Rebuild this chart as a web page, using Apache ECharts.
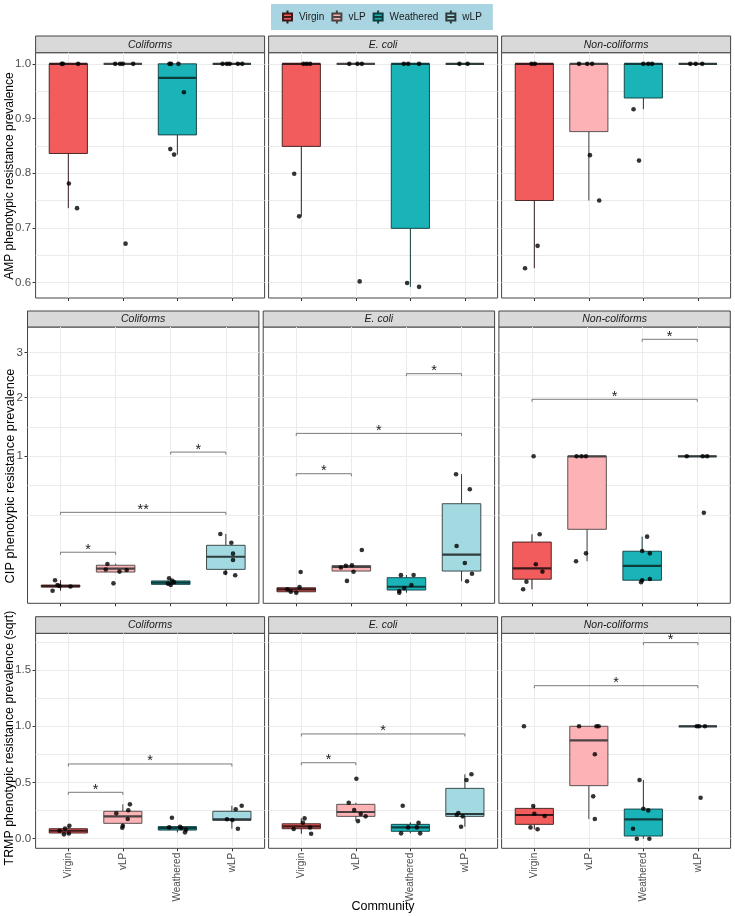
<!DOCTYPE html>
<html>
<head>
<meta charset="utf-8">
<script src="https://cdn.jsdelivr.net/npm/echarts@6/dist/echarts.min.js"></script>
<style>
  html, body { margin: 0; padding: 0; background: #fff; }
  #chart { width: 735px; height: 916px; }
</style>
</head>
<body>
<div id="chart"></div>
<script>
const communities = ['Virgin', 'vLP', 'Weathered', 'wLP'];
const facets = ['Coliforms', 'E. coli', 'Non-coliforms'];
const rowTitles = ['AMP phenotypic resistance prevalence', 'CIP phenotypic resistance prevalence', 'TRMP phenotypic resistance prevalence (sqrt)'];
const ampTicks = [0.6, 0.7, 0.8, 0.9, 1.0];
const cipTicks = [1, 2, 3];
const trmpTicks = [0, 0.5, 1, 1.5];

// box stats per community: [min, q1, median, q3, max]
// points: [community index, jitter, value]
// significance: [from, to, height, label]
const ampColiBox = [[0.736, 0.836, 1, 1, 1], [1, 1, 1, 1, 1], [0.834, 0.870, 0.9745, 1, 1], [1, 1, 1, 1, 1]];
const ampColiPts = [
  [0, -0.12, 1], [0, -0.10, 1], [0, 0.18, 1], [0, 0.01, 0.781], [0, 0.16, 0.736],
  [1, -0.14, 1], [1, -0.05, 1], [1, 0, 1], [1, 0.19, 1], [1, 0.05, 0.671],
  [2, -0.145, 1], [2, -0.115, 1], [2, 0.02, 1], [2, 0.12, 0.948], [2, -0.13, 0.844], [2, -0.06, 0.834],
  [3, -0.17, 1], [3, -0.09, 1], [3, -0.04, 1], [3, 0.11, 1], [3, 0.19, 1]];
const ampEcoliBox = [[0.721, 0.849, 1, 1, 1], [1, 1, 1, 1, 1], [0.592, 0.699, 1, 1, 1], [1, 1, 1, 1, 1]];
const ampEcoliPts = [
  [0, 0.04, 1], [0, 0.10, 1], [0, 0.16, 1], [0, -0.13, 0.799], [0, -0.04, 0.721],
  [1, -0.12, 1], [1, 0.03, 1], [1, 0.11, 1], [1, 0.07, 0.602],
  [2, -0.12, 1], [2, -0.04, 1], [2, 0.16, 1], [2, -0.06, 0.599], [2, 0.16, 0.592],
  [3, -0.10, 1], [3, 0.05, 1]];
const ampNonBox = [[0.626, 0.75, 1, 1, 1], [0.75, 0.876, 1, 1, 1], [0.917, 0.9375, 1, 1, 1], [1, 1, 1, 1, 1]];
const ampNonPts = [
  [0, -0.05, 1], [0, 0.01, 1], [0, 0.06, 0.667], [0, -0.17, 0.626],
  [1, -0.18, 1], [1, -0.03, 1], [1, 0.06, 1], [1, 0.02, 0.833], [1, 0.19, 0.75],
  [2, 0, 1], [2, 0.09, 1], [2, 0.16, 1], [2, -0.18, 0.917], [2, -0.08, 0.823],
  [3, -0.14, 1], [3, -0.04, 1], [3, 0.08, 1]];

// CIP values are prevalences, drawn on a square-root axis
const cipColiBox = [[0.0025, 0.0058, 0.0069, 0.0081, 0.0154], [0.0331, 0.0331, 0.0424, 0.0529, 0.0581], [0.0081, 0.0090, 0.0114, 0.0142, 0.0190], [0.0253, 0.0404, 0.0841, 0.1376, 0.2034]];
const cipColiPts = [
  [0, -0.10, 0.0154], [0, -0.145, 0.0025], [0, -0.055, 0.0081], [0, 0.18, 0.0064], [0, -0.02, 0.0069],
  [1, -0.15, 0.0571], [1, -0.18, 0.0400], [1, 0.07, 0.0342], [1, 0.20, 0.0384], [1, -0.04, 0.0104],
  [2, -0.03, 0.0190], [2, 0.03, 0.0142], [2, 0, 0.0081], [2, -0.05, 0.0100], [2, 0.06, 0.0121],
  [3, -0.10, 0.2034], [3, 0.10, 0.1513], [3, 0.13, 0.0973], [3, 0.13, 0.0713], [3, -0.01, 0.0313], [3, 0.17, 0.0253]];
const cipColiSig = [[0, 1, 0.1037, '*'], [0, 3, 0.3648, '**'], [2, 3, 1.0609, '*']];
const cipEcoliBox = [[0.0013, 0.0018, 0.0036, 0.0050, 0.0058], [0.0339, 0.0357, 0.0475, 0.0515, 0.0529], [0.0013, 0.0030, 0.0061, 0.0202, 0.0259], [0.0137, 0.0357, 0.0930, 0.4422, 0.7621]];
const cipEcoliPts = [
  [0, -0.16, 0.0036], [0, -0.10, 0.0018], [0, 0, 0.0013], [0, 0.06, 0.0058], [0, 0.08, 0.0331],
  [1, -0.19, 0.0460], [1, -0.10, 0.0515], [1, 0.01, 0.0529], [1, 0.04, 0.0339], [1, -0.08, 0.0142], [1, 0.19, 0.1142],
  [2, -0.10, 0.0256], [2, 0.13, 0.0259], [2, 0.09, 0.0081], [2, -0.04, 0.0045], [2, -0.13, 0.0023], [2, -0.13, 0.0013],
  [3, -0.10, 0.7621], [3, 0.15, 0.5883], [3, -0.09, 0.1340], [3, 0.06, 0.0605], [3, 0.19, 0.0289], [3, 0.10, 0.0137]];
const cipEcoliSig = [[0, 1, 0.7691, '*'], [0, 3, 1.3502, '*'], [2, 3, 2.5091, '*']];
const cipNonBox = [[0.0036, 0.0172, 0.0433, 0.1552, 0.2016], [0.0666, 0.2343, 1, 1, 1], [0.0121, 0.0154, 0.0506, 0.1082, 0.1866], [1, 1, 1, 1, 1]];
const cipNonPts = [
  [0, 0.03, 1], [0, 0.14, 0.2016], [0, 0.07, 0.0562], [0, 0.19, 0.0342], [0, -0.10, 0.0130], [0, -0.16, 0.0036],
  [1, -0.19, 1], [1, -0.10, 1], [1, -0.02, 1], [1, -0.02, 0.0986], [1, -0.20, 0.0666],
  [2, 0.09, 0.1866], [2, 0, 0.1096], [2, 0.14, 0.0986], [2, 0.14, 0.0177], [2, 0, 0.0154], [2, -0.02, 0.0121],
  [3, -0.19, 1], [3, 0.10, 1], [3, 0.18, 1], [3, 0.12, 0.3612]];
const cipNonSig = [[0, 3, 1.9684, '*'], [2, 3, 3.3379, '*']];

// TRMP values are already square-root transformed
const trmpColiBox = [[0.039, 0.051, 0.071, 0.089, 0.116], [0.098, 0.137, 0.199, 0.244, 0.306], [0.057, 0.077, 0.095, 0.108, 0.110], [0.089, 0.164, 0.173, 0.244, 0.294]];
const trmpColiPts = [
  [0, -0.16, 0.071], [0, -0.06, 0.090], [0, 0.02, 0.116], [0, -0.08, 0.039], [0, 0.01, 0.047],
  [1, 0.13, 0.306], [1, -0.12, 0.226], [1, 0.10, 0.253], [1, 0.09, 0.175], [1, 0, 0.116], [1, -0.01, 0.098],
  [2, -0.10, 0.187], [2, -0.15, 0.101], [2, 0.05, 0.107], [2, 0.07, 0.095], [2, 0.16, 0.080], [2, 0.14, 0.057],
  [3, 0.18, 0.294], [3, 0.07, 0.262], [3, -0.09, 0.173], [3, 0.01, 0.167], [3, 0.11, 0.089]];
const trmpColiSig = [[0, 1, 0.413, '*'], [0, 3, 0.665, '*']];
const trmpEcoliBox = [[0.044, 0.089, 0.110, 0.133, 0.181], [0.157, 0.199, 0.238, 0.306, 0.320], [0.048, 0.066, 0.101, 0.128, 0.146], [0.107, 0.199, 0.220, 0.448, 0.573]];
const trmpEcoliPts = [
  [0, 0.06, 0.181], [0, 0.03, 0.142], [0, -0.14, 0.086], [0, 0.16, 0.100], [0, 0.18, 0.044],
  [1, 0.01, 0.534], [1, -0.13, 0.320], [1, -0.03, 0.255], [1, 0.09, 0.220], [1, 0.18, 0.199], [1, 0.04, 0.157],
  [2, -0.14, 0.294], [2, 0.15, 0.142], [2, -0.04, 0.101], [2, 0.12, 0.101], [2, -0.17, 0.048], [2, 0.18, 0.048],
  [3, 0.12, 0.573], [3, 0.03, 0.522], [3, -0.12, 0.229], [3, -0.15, 0.214], [3, -0.04, 0.199], [3, -0.07, 0.107]];
const trmpEcoliSig = [[0, 1, 0.676, '*'], [0, 3, 0.932, '*']];
const trmpNonBox = [[0.084, 0.128, 0.211, 0.270, 0.291], [0.175, 0.472, 0.875, 1, 1], [0, 0.024, 0.173, 0.264, 0.522], [1, 1, 1, 1, 1]];
const trmpNonPts = [
  [0, -0.19, 1], [0, -0.02, 0.291], [0, 0, 0.222], [0, 0.19, 0.202], [0, -0.07, 0.101], [0, 0.06, 0.084],
  [1, -0.18, 1], [1, 0.14, 1], [1, 0.18, 1], [1, 0.11, 0.751], [1, 0.08, 0.377], [1, 0.11, 0.175],
  [2, -0.07, 0.522], [2, 0, 0.267], [2, 0.09, 0.252], [2, -0.19, 0.089], [2, -0.12, 0], [2, 0.11, 0],
  [3, -0.02, 1], [3, 0.02, 1], [3, 0.13, 1], [3, 0.05, 0.365]];
const trmpNonSig = [[0, 3, 1.361, '*'], [2, 3, 1.744, '*']];

// styling
const fills = ['#F25C5C', '#FDB3B6', '#19B3B8', '#A3DAE2'];
const outlines = ['#3a1a1a', '#4a4243', '#103c3d', '#2e3a3c'];
const gridColor = '#EBEBEB';
const font = 'Liberation Sans, Arial, sans-serif';

// layout (px)
const rowTop = [52.7, 327, 633.3];
const rowBottom = [298, 603.3, 848.3];
const stripTop = [36, 311, 616.7];
const colLeft = [[35.6, 268.6, 501.6], [27.5, 263.2, 498.9], [35.6, 268.6, 501.6]];
const colWidth = [229, 231.4, 229];
const titleY = [176, 476, 738];
const titleSize = [12, 12.8, 12.4];

// ggplot-like minor breaks: midpoints between majors, extended by one step each side
function minorBreaks(majors, lo, hi) {
  const b = majors.slice();
  const d = b[1] - b[0];
  if (lo < b[0]) b.unshift(b[0] - d);
  if (hi > b[b.length - 1]) b.push(b[b.length - 1] + d);
  const out = [];
  for (let i = 0; i < b.length - 1; i++) {
    out.push((b[i] + b[i + 1]) / 2);
    if (majors.indexOf(b[i]) < 0) out.push(b[i]);
  }
  return out.filter(v => v > lo && v < hi);
}

const rows = [
  { boxes: [ampColiBox, ampEcoliBox, ampNonBox], pts: [ampColiPts, ampEcoliPts, ampNonPts], sig: [[], [], []],
    tf: v => v, min: 0.5716, max: 1.0204, majors: ampTicks, fmt: v => v.toFixed(1) },
  { boxes: [cipColiBox, cipEcoliBox, cipNonBox], pts: [cipColiPts, cipEcoliPts, cipNonPts], sig: [cipColiSig, cipEcoliSig, cipNonSig],
    tf: Math.sqrt, min: -0.039, max: 1.914, majors: cipTicks.map(Math.sqrt), fmt: v => String(Math.round(v * v)) },
  { boxes: [trmpColiBox, trmpEcoliBox, trmpNonBox], pts: [trmpColiPts, trmpEcoliPts, trmpNonPts], sig: [trmpColiSig, trmpEcoliSig, trmpNonSig],
    tf: v => v, min: -0.085, max: 1.827, majors: trmpTicks, fmt: v => v.toFixed(1) }
];

const grids = [], xAxes = [], yAxes = [], series = [], graphics = [];

function boxRenderer(fill, outline) {
  return function (params, api) {
    const x = api.value(0);
    const lo = api.coord([x, api.value(1)]);
    const q1 = api.coord([x, api.value(2)]);
    const md = api.coord([x, api.value(3)]);
    const q3 = api.coord([x, api.value(4)]);
    const hi = api.coord([x, api.value(5)]);
    const half = api.size([0.35, 0])[0];
    const cx = q1[0];
    return {
      type: 'group',
      children: [
        { type: 'line', shape: { x1: cx, y1: lo[1], x2: cx, y2: q1[1] }, style: { stroke: outline, lineWidth: 1 } },
        { type: 'line', shape: { x1: cx, y1: q3[1], x2: cx, y2: hi[1] }, style: { stroke: outline, lineWidth: 1 } },
        { type: 'rect', shape: { x: cx - half, y: q3[1], width: half * 2, height: q1[1] - q3[1] },
          style: { fill: fill, stroke: outline, lineWidth: 0.9 } },
        { type: 'line', shape: { x1: cx - half, y1: md[1], x2: cx + half, y2: md[1] }, style: { stroke: outline, lineWidth: 2.2 } }
      ]
    };
  };
}

function sigRenderer(sig, tf) {
  return function (params, api) {
    const s = sig[params.dataIndex];
    const a = api.coord([s[0], tf(s[2])]);
    const b = api.coord([s[1], tf(s[2])]);
    const tip = 2.5;
    return {
      type: 'group',
      children: [
        { type: 'polyline', shape: { points: [[a[0], a[1] + tip], [a[0], a[1]], [b[0], b[1]], [b[0], b[1] + tip]] },
          style: { stroke: '#6b6b6b', lineWidth: 0.9, fill: null } },
        { type: 'text', x: (a[0] + b[0]) / 2, y: a[1] - 2.5,
          style: { text: s[3], fontSize: 14.5, fontFamily: font, fill: '#1a1a1a',
                   align: 'center', verticalAlign: 'middle', textAlign: 'center', textVerticalAlign: 'middle' } }
      ]
    };
  };
}

rows.forEach((row, r) => {
  const minors = minorBreaks(row.majors, row.min, row.max);
  facets.forEach((facet, c) => {
    const gi = grids.length;
    const left = colLeft[r][c], top = rowTop[r], w = colWidth[r], h = rowBottom[r] - rowTop[r];
    grids.push({ left: left, top: top, width: w, height: h, show: true, backgroundColor: '#fff',
                 borderColor: '#444', borderWidth: 1 });

    xAxes.push({
      type: 'value', gridIndex: gi, min: -0.6, max: 3.6,
      axisLine: { show: false, onZero: false },
      axisTick: { show: true, customValues: [0, 1, 2, 3], length: 3, lineStyle: { color: '#333' } },
      splitLine: { show: true, lineStyle: { color: gridColor, width: 1 } },
      axisLabel: r === 2 ? {
        show: true, customValues: [0, 1, 2, 3], rotate: 90, margin: 4.5, fontSize: 10, color: '#4d4d4d',
        fontFamily: font, formatter: v => communities[Math.round(v)]
      } : { show: false }
    });

    const yMain = yAxes.length;
    yAxes.push({
      type: 'value', gridIndex: gi, min: row.min, max: row.max,
      axisLine: { show: false, onZero: false },
      axisTick: { show: false, customValues: row.majors.concat(minors) },
      splitLine: { show: true, lineStyle: { color: gridColor, width: 1 } },
      axisLabel: { show: false }
    });
    if (c === 0) {
      yAxes.push({
        type: 'value', gridIndex: gi, min: row.min, max: row.max, position: 'left',
        axisLine: { show: false, onZero: false },
        axisTick: { show: true, customValues: row.majors, length: 3, lineStyle: { color: '#333' } },
        splitLine: { show: false },
        axisLabel: { show: true, customValues: row.majors, margin: 4.5, fontSize: 11.5, color: '#4d4d4d',
                     fontFamily: font, formatter: row.fmt }
      });
    }

    row.boxes[c].forEach((st, g) => {
      series.push({
        type: 'custom', name: communities[g], xAxisIndex: gi, yAxisIndex: yMain,
        itemStyle: { color: fills[g], borderColor: outlines[g], borderWidth: 1 },
        renderItem: boxRenderer(fills[g], outlines[g]),
        encode: { x: 0, y: [1, 2, 3, 4, 5] },
        data: [[g].concat(st.map(row.tf))], z: 2, silent: true
      });
    });

    series.push({
      type: 'scatter', xAxisIndex: gi, yAxisIndex: yMain, symbolSize: 4.6,
      itemStyle: { color: '#000' }, z: 4, silent: true,
      data: row.pts[c].map(p => [p[0] + p[1], row.tf(p[2])])
    });

    if (row.sig[c].length) {
      series.push({
        type: 'custom', xAxisIndex: gi, yAxisIndex: yMain, z: 5, silent: true,
        renderItem: sigRenderer(row.sig[c], row.tf),
        encode: { x: [0, 1], y: 2 },
        data: row.sig[c].map(s => [s[0], s[1], row.tf(s[2])])
      });
    }

    // facet strip
    graphics.push({ type: 'rect', shape: { x: left, y: stripTop[r], width: w, height: top - stripTop[r] },
                    style: { fill: '#D9D9D9', stroke: '#444', lineWidth: 1 } });
    graphics.push({ type: 'text', x: left + w / 2, y: (stripTop[r] + top) / 2 + 0.5,
                    style: { text: facet, fontSize: 10.5, fontStyle: 'italic', fill: '#1a1a1a',
                             fontFamily: font, align: 'center', verticalAlign: 'middle' } });
  });

  graphics.push({ type: 'text', x: 10, y: titleY[r], rotation: Math.PI / 2,
                  style: { text: rowTitles[r], fontSize: titleSize[r], fill: '#000',
                           fontFamily: font, align: 'center', verticalAlign: 'middle' } });
});

graphics.push({ type: 'text', x: 383, y: 906.5,
                style: { text: 'Community', fontSize: 12.5, fill: '#000',
                         fontFamily: font, align: 'center', verticalAlign: 'middle' } });

const chart = echarts.init(document.getElementById('chart'), null, { renderer: 'canvas' });
chart.setOption({
  animation: false,
  backgroundColor: '#fff',
  legend: {
    data: communities, top: 4, left: 271, selectedMode: false,
    backgroundColor: '#A9D5E2', padding: [5.5, 11, 5.5, 11],
    itemWidth: 13, itemHeight: 13, itemGap: 7,
    icon: 'path://M2,3L11,3L11,10L2,10Z M6.5,0L6.5,3 M6.5,10L6.5,13 M2,6.5L11,6.5',
    textStyle: { fontSize: 10, color: '#1a1a1a', fontFamily: font }
  },
  grid: grids,
  xAxis: xAxes,
  yAxis: yAxes,
  series: series,
  graphic: graphics
});
</script>
</body>
</html>
